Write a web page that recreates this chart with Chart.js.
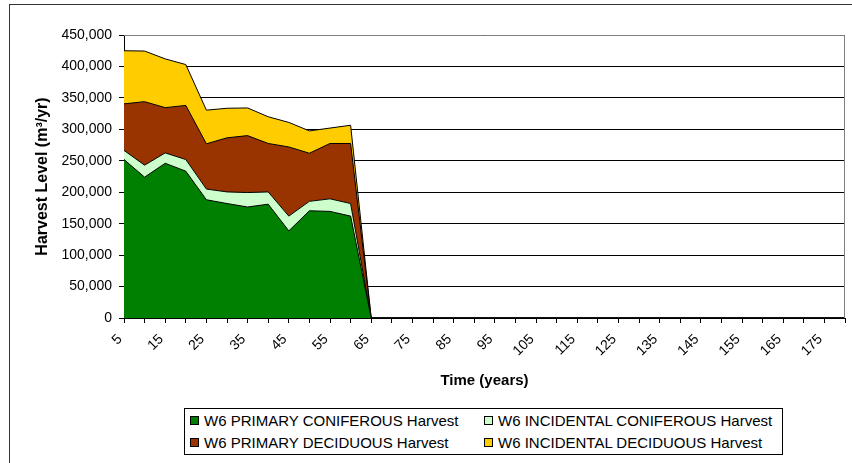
<!DOCTYPE html>
<html>
<head>
<meta charset="utf-8">
<script src="https://cdn.jsdelivr.net/npm/chart.js@4.4.0/dist/chart.umd.min.js"></script>
<style>
    body { margin: 0; background: #fff; font-family: "Liberation Sans", Arial, sans-serif; }
    #wrap { position: relative; width: 852px; height: 463px; overflow: hidden; }
    #frame { position: absolute; left: 9px; top: 4px; width: 900px; height: 500px; border: 1px solid #333; box-sizing: border-box; }
    canvas { position: absolute; left: 0; top: 0; }
    #legend { position: absolute; left: 184px; top: 408px; width: 599px; height: 47px; border: 1px solid #000; box-sizing: border-box; background: #fff; }
    .legend-item { position: absolute; font-size: 15px; color: #000; white-space: nowrap; line-height: 18px; }
    .legend-item .swatch { display: inline-block; width: 7px; height: 7px; border: 1px solid #000; margin-right: 5px; vertical-align: 1px; }
</style>
</head>
<body>
<div id="wrap">
    <div id="frame"></div>
    <canvas id="harvest-chart" width="852" height="463"></canvas>
    <div id="legend"></div>
</div>
<script>
// Time axis (years)
const years = [5, 10, 15, 20, 25, 30, 35, 40, 45, 50, 55, 60, 65, 70, 75, 80, 85, 90,
    95, 100, 105, 110, 115, 120, 125, 130, 135, 140, 145, 150, 155, 160, 165, 170, 175, 180];

// Harvest levels in m3/yr
const primaryConiferous = [252000, 224000, 246000, 233500, 188000, 182000, 176500, 181000, 138500, 170500, 169500, 162000,
    0, 0, 0, 0, 0, 0, 0, 0, 0, 0, 0, 0, 0, 0, 0, 0, 0, 0, 0, 0, 0, 0, 0, 0];
const incidentalConiferous = [14500, 19000, 16500, 18500, 17000, 18500, 23000, 19500, 23500, 15000, 20000, 20000,
    0, 0, 0, 0, 0, 0, 0, 0, 0, 0, 0, 0, 0, 0, 0, 0, 0, 0, 0, 0, 0, 0, 0, 0];
const primaryDeciduous = [74000, 101000, 72000, 86000, 72000, 86000, 90500, 77000, 110000, 76500, 88000, 95500,
    0, 0, 0, 0, 0, 0, 0, 0, 0, 0, 0, 0, 0, 0, 0, 0, 0, 0, 0, 0, 0, 0, 0, 0];
const incidentalDeciduous = [84500, 80500, 77500, 65000, 53500, 47000, 44000, 42500, 39000, 35500, 24500, 29000,
    0, 0, 0, 0, 0, 0, 0, 0, 0, 0, 0, 0, 0, 0, 0, 0, 0, 0, 0, 0, 0, 0, 0, 0];

const seriesNames = [
    'W6 PRIMARY CONIFEROUS Harvest',
    'W6 INCIDENTAL CONIFEROUS Harvest',
    'W6 PRIMARY DECIDUOUS Harvest',
    'W6 INCIDENTAL DECIDUOUS Harvest'
];
const seriesColors = ['#008000', '#CCFFCC', '#993300', '#FFCC00'];
const seriesData = [primaryConiferous, incidentalConiferous, primaryDeciduous, incidentalDeciduous];

const FONT = '"Liberation Sans", Arial, sans-serif';

// grey frame on top and right of the plot area
const plotFrame = {
    id: 'plotFrame',
    afterDatasetsDraw(chart) {
        const { ctx, chartArea } = chart;
        ctx.save();
        ctx.strokeStyle = '#808080';
        ctx.lineWidth = 1;
        ctx.beginPath();
        ctx.moveTo(chartArea.left, chartArea.top + 0.5);
        ctx.lineTo(chartArea.right - 0.5, chartArea.top + 0.5);
        ctx.lineTo(chartArea.right - 0.5, chartArea.bottom);
        ctx.stroke();
        ctx.restore();
    }
};

const datasets = seriesData.map((data, i) => ({
    label: seriesNames[i],
    data: data,
    borderColor: '#000',
    borderWidth: 1,
    backgroundColor: seriesColors[i],
    fill: i === 0 ? 'origin' : '-1',
    tension: 0,
    pointRadius: 0
}));

new Chart(document.getElementById('harvest-chart'), {
    type: 'line',
    data: { labels: years, datasets: datasets },
    plugins: [plotFrame],
    options: {
        responsive: false,
        animation: false,
        layout: { padding: { left: 27, right: 7, top: 35, bottom: 70 } },
        plugins: {
            legend: { display: false },
            tooltip: { enabled: false }
        },
        scales: {
            x: {
                offset: false,
                grid: { drawOnChartArea: false, drawTicks: true, tickLength: 5, color: '#000' },
                border: { color: '#000' },
                ticks: {
                    autoSkip: false,
                    maxRotation: 45,
                    minRotation: 45,
                    padding: 8,
                    labelOffset: -4,
                    color: '#000',
                    font: { family: FONT, size: 14 },
                    callback: (value, index) => index % 2 === 0 ? years[index] : ''
                },
                title: {
                    display: true,
                    text: 'Time (years)',
                    color: '#000',
                    font: { family: FONT, size: 15, weight: 'bold' },
                    padding: { top: 0, bottom: 3 }
                },
                afterFit: (scale) => {
                    // keep the plot edges where the original puts them
                    scale.height = 75;
                    scale.paddingLeft = 0;
                    scale.paddingRight = 0;
                }
            },
            y: {
                stacked: true,
                min: 0,
                max: 450000,
                grid: { color: '#000', tickLength: 5 },
                border: { color: '#000' },
                ticks: {
                    stepSize: 50000,
                    padding: 7,
                    color: '#000',
                    font: { family: FONT, size: 14 },
                    callback: (value) => value.toLocaleString('en-US')
                },
                title: {
                    display: true,
                    text: 'Harvest Level (m³/yr)',
                    color: '#000',
                    font: { family: FONT, size: 16, weight: 'bold' },
                    padding: { top: 6, bottom: 0 }
                },
                afterFit: (scale) => { scale.width = 97; }
            }
        }
    }
});

// legend in two columns, Excel style
const legendPos = [
    { left: 5, top: 3 }, { left: 299, top: 3 },
    { left: 5, top: 25 }, { left: 299, top: 25 }
];
const legend = document.getElementById('legend');
seriesNames.forEach((name, i) => {
    const item = document.createElement('div');
    item.className = 'legend-item';
    item.style.left = legendPos[i].left + 'px';
    item.style.top = legendPos[i].top + 'px';
    item.innerHTML = `<span class="swatch" style="background:${seriesColors[i]}"></span>${name}`;
    legend.appendChild(item);
});
</script>
</body>
</html>
